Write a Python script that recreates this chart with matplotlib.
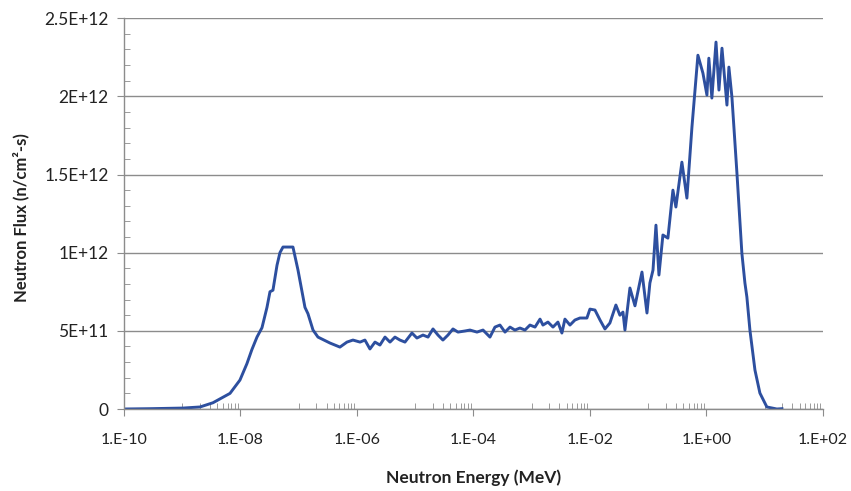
import numpy as np
import matplotlib
matplotlib.use("Agg")
import matplotlib.pyplot as plt
from matplotlib.ticker import FixedLocator, NullFormatter

# neutron energy (MeV) and flux (units of 1E+12 n/cm2-s)
energy_mev = [
    1.00e-10, 2.79e-10, 1.03e-9, 2.02e-9, 3.37e-9, 6.61e-9, 9.79e-9, 1.29e-8,
    1.57e-8, 1.92e-8, 2.34e-8, 2.85e-8, 3.21e-8, 3.61e-8, 4.24e-8, 4.76e-8,
    5.37e-8, 7.96e-8, 9.70e-8, 1.28e-7, 1.44e-7, 1.76e-7, 2.14e-7, 3.44e-7,
    5.10e-7, 6.73e-7, 8.53e-7, 1.13e-6, 1.37e-6, 1.67e-6, 2.04e-6, 2.48e-6,
    3.03e-6, 3.69e-6, 4.49e-6, 5.47e-6, 6.67e-6, 8.79e-6, 1.07e-5, 1.36e-5,
    1.66e-5, 2.02e-5, 2.46e-5, 2.99e-5, 3.65e-5, 4.45e-5, 5.42e-5, 7.14e-5,
    8.71e-5, 1.15e-4, 1.46e-4, 1.92e-4, 2.34e-4, 2.85e-4, 3.48e-4, 4.24e-4,
    5.15e-4, 6.28e-4, 7.66e-4, 9.33e-4, 1.14e-3, 1.39e-3, 1.56e-3, 1.90e-3,
    2.32e-3, 2.82e-3, 3.30e-3, 3.72e-3, 4.54e-3, 5.52e-3, 6.73e-3, 8.87e-3,
    1.00e-2, 1.22e-2, 1.49e-2, 1.81e-2, 2.20e-2, 2.79e-2, 3.27e-2, 3.69e-2,
    3.99e-2, 4.86e-2, 5.93e-2, 7.82e-2, 9.53e-2, 1.07e-1, 1.21e-1, 1.36e-1,
    1.53e-1, 1.79e-1, 2.18e-1, 2.66e-1, 2.99e-1, 3.79e-1, 4.62e-1, 5.64e-1,
    7.14e-1, 8.71e-1, 1.02, 1.10, 1.24, 1.46, 1.64, 1.85,
    2.25, 2.43, 2.74, 3.34, 4.06, 4.58, 4.95, 5.58,
    6.81, 8.28, 10.9, 16.2, 19.8,
]
flux_e12 = [
    0.000, 0.002, 0.006, 0.013, 0.040, 0.100, 0.185, 0.290,
    0.380, 0.460, 0.520, 0.650, 0.750, 0.760, 0.920, 1.000,
    1.036, 1.036, 0.890, 0.650, 0.610, 0.505, 0.460, 0.422,
    0.396, 0.428, 0.441, 0.428, 0.441, 0.384, 0.428, 0.409,
    0.460, 0.428, 0.460, 0.441, 0.428, 0.486, 0.454, 0.473,
    0.460, 0.512, 0.473, 0.441, 0.473, 0.512, 0.492, 0.499,
    0.505, 0.492, 0.505, 0.460, 0.524, 0.537, 0.492, 0.524,
    0.505, 0.518, 0.505, 0.537, 0.524, 0.575, 0.537, 0.556,
    0.524, 0.556, 0.486, 0.575, 0.537, 0.569, 0.582, 0.582,
    0.639, 0.633, 0.569, 0.512, 0.550, 0.665, 0.600, 0.620,
    0.505, 0.774, 0.660, 0.876, 0.614, 0.806, 0.889, 1.176,
    0.857, 1.113, 1.093, 1.400, 1.292, 1.579, 1.349, 1.803,
    2.263, 2.148, 2.008, 2.244, 1.989, 2.347, 2.040, 2.308,
    1.944, 2.187, 1.995, 1.509, 0.997, 0.806, 0.716, 0.505,
    0.249, 0.102, 0.013, 0.000, 0.002,
]

x_ticks = [1e-10, 1e-8, 1e-6, 1e-4, 1e-2, 1e0, 1e2]
x_labels = ["1.E-10", "1.E-08", "1.E-06", "1.E-04", "1.E-02", "1.E+00", "1.E+02"]
y_ticks = [0, 0.5e12, 1.0e12, 1.5e12, 2.0e12, 2.5e12]
y_labels = ["0", "5E+11", "1E+12", "1.5E+12", "2E+12", "2.5E+12"]

plt.rcParams['font.family'] = ['Lato', 'DejaVu Sans']

fig = plt.figure(figsize=(8.51, 4.91), dpi=100)
ax = fig.add_axes([0.1457, 0.167, 0.8213, 0.796])

ax.plot(energy_mev, np.array(flux_e12) * 1e12, color='#2d4f9f', linewidth=2.1)

ax.set_xscale('log')
ax.set_xlim(1e-10, 1e2)
ax.set_ylim(0, 2.5e12)

ax.xaxis.set_major_locator(FixedLocator(x_ticks))
ax.set_xticklabels(x_labels)
minor_x = [m * 10.0**k for k in range(-9, 2, 2) for m in range(1, 10)]
ax.xaxis.set_minor_locator(FixedLocator(minor_x))
ax.xaxis.set_minor_formatter(NullFormatter())

ax.yaxis.set_major_locator(FixedLocator(y_ticks))
ax.set_yticklabels(y_labels)
ax.yaxis.set_minor_locator(FixedLocator(np.arange(0, 2.5e12, 1e11)))

ax.grid(True, axis='y', which='major', color='#8c8c8c', linewidth=1.0)
ax.set_axisbelow(True)

for s in ['top', 'right']:
    ax.spines[s].set_visible(False)
for s in ['left', 'bottom']:
    ax.spines[s].set_color('#8c8c8c')
    ax.spines[s].set_linewidth(1.0)

ax.tick_params(axis='both', which='major', direction='out', length=5,
               color='#8c8c8c', labelcolor='#222222')
ax.tick_params(axis='x', which='major', labelsize=11.5, pad=12)
ax.tick_params(axis='y', which='major', labelsize=12.5, pad=6)
ax.tick_params(axis='both', which='minor', direction='in', length=4,
               color='#8c8c8c')

ax.set_xlabel("Neutron Energy (MeV)", fontsize=12.5, fontweight='bold',
              color='#222222', va='center')
ax.xaxis.set_label_coords(0.5, -0.176)
ax.set_ylabel("Neutron Flux (n/cm²-s)", fontsize=12, fontweight='bold',
              color='#222222', va='center')
ax.yaxis.set_label_coords(-0.147, 0.49)

fig.savefig("out.png", dpi=100)
